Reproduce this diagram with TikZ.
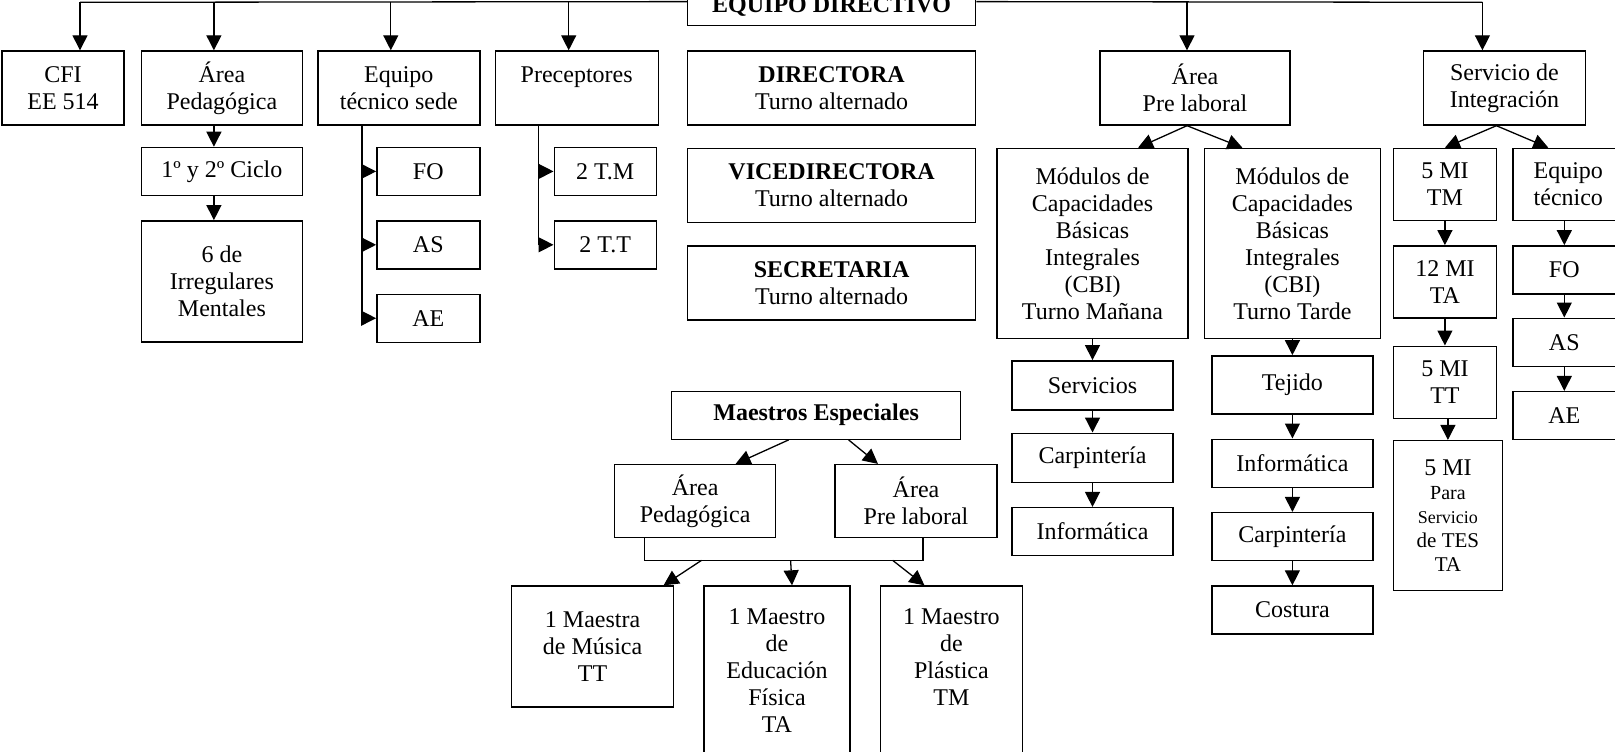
\documentclass[tikz,border=0pt]{standalone}
\usepackage{fontspec}
\setmainfont{Liberation Serif}
\usetikzlibrary{arrows.meta,positioning}

\begin{document}
\begin{tikzpicture}[
    box/.style={draw, line width=0.7pt, align=center, inner sep=1pt, font=\fontsize{12}{13.5}\selectfont},
    arr/.style={-{Triangle[length=7.5pt,width=7.5pt]}, line width=0.65pt},
    conn/.style={line width=0.65pt}
  ]
    \useasboundingbox (0,0) rectangle (807.5pt,-375.5pt);
    % fila superior
    \node[box, minimum width=61pt, minimum height=37pt] (cfi) at (31.5pt,-44pt) {CFI\\EE 514};
    \node[box, minimum width=80.5pt, minimum height=37pt, right=8pt of cfi] (aped) {Área\\Pedagógica};
    \node[box, minimum width=81pt, minimum height=37pt, right=7pt of aped] (eqs) {Equipo\\técnico sede};
    \node[box, minimum width=81.5pt, minimum height=37pt, right=7pt of eqs] (prec) {Preceptores\\~};
    \node[box, minimum width=144pt, minimum height=37pt, right=14pt of prec] (dirc) {\textbf{DIRECTORA}\\Turno alternado};
    \node[box, minimum width=95pt, minimum height=37pt, right=61.5pt of dirc] (apl) {Área\\Pre laboral};
    \node[box, minimum width=81pt, minimum height=37pt, right=66pt of apl] (sint) {Servicio de\\Integración};
    \node[box, minimum width=144pt, minimum height=19pt, above=12pt of dirc] (edir) {\textbf{EQUIPO DIRECTIVO}};
    \draw[conn] ([shift={(8.5pt,24pt)}]cfi.north) -- ([yshift=2.5pt]edir.west);
    \draw[conn] ([yshift=2.5pt]edir.east) -- ([shift={(-11pt,24pt)}]sint.north);
    \foreach \n/\dx in {cfi/8.5, aped/-4, eqs/-4, prec/-4, apl/-4, sint/-11}
      \draw[arr] ([shift={(\dx pt,24pt)}]\n.north) -- ([xshift=\dx pt]\n.north);
    % area pedagogica
    \node[box, minimum width=80.5pt, minimum height=24pt, below=10.5pt of aped] (ciclo) {1º y 2º Ciclo};
    \node[box, minimum width=80.5pt, minimum height=60.5pt, below=12pt of ciclo] (irreg) {6 de\\Irregulares\\Mentales};
    \draw[arr] ([xshift=-4pt]aped.south) -- ([xshift=-4pt]ciclo.north);
    \draw[arr] ([xshift=-4pt]ciclo.south) -- ([xshift=-4pt]irreg.north);
    % equipo tecnico sede
    \node[box, minimum width=51.5pt, minimum height=24pt, below=10.5pt of eqs.south east, anchor=north east] (fo1) {FO};
    \node[box, minimum width=51.5pt, minimum height=24pt, below=12pt of fo1] (as1) {AS};
    \node[box, minimum width=51.5pt, minimum height=24pt, below=12pt of as1] (ae1) {AE};
    \coordinate (eqsv) at ([xshift=22.5pt]eqs.south west);
    \draw[conn] (eqsv) -- (eqsv |- ae1.west);
    \foreach \n in {fo1,as1,ae1}
      \draw[arr] (eqsv |- \n.west) -- (\n.west);
    % preceptores
    \node[box, minimum width=51pt, minimum height=24pt, below=10.5pt of prec.south east, anchor=north east, xshift=-1pt] (tm2) {2 T.M};
    \node[box, minimum width=51pt, minimum height=24pt, below=12pt of tm2] (tt2) {2 T.T};
    \coordinate (precv) at ([xshift=22pt]prec.south west);
    \draw[conn] (precv) -- (precv |- tt2.west);
    \foreach \n in {tm2,tt2}
      \draw[arr] (precv |- \n.west) -- (\n.west);
    % equipo directivo
    \node[box, minimum width=144pt, minimum height=37pt, below=11pt of dirc] (vdir) {\textbf{VICEDIRECTORA}\\Turno alternado};
    \node[box, minimum width=144pt, minimum height=37pt, below=11pt of vdir] (sdir) {\textbf{SECRETARIA}\\Turno alternado};
    % area pre laboral
    \node[box, minimum width=95.5pt, minimum height=95pt, below=11pt of apl.south west, anchor=north west, xshift=-51.5pt] (mtm) {Módulos de\\Capacidades\\Básicas\\Integrales\\(CBI)\\Turno Mañana};
    \node[box, minimum width=88pt, minimum height=95pt, right=7.5pt of mtm] (mtt) {Módulos de\\Capacidades\\Básicas\\Integrales\\(CBI)\\Turno Tarde};
    \draw[arr] ([xshift=-4pt]apl.south) -- ([xshift=22.75pt]mtm.north);
    \draw[arr] ([xshift=-4pt]apl.south) -- ([xshift=-25pt]mtt.north);
    \node[box, minimum width=80.5pt, minimum height=24.5pt, below=10.5pt of mtm] (serv) {Servicios};
    \node[box, minimum width=80.5pt, minimum height=24.5pt, below=11pt of serv] (carp1) {Carpintería};
    \node[box, minimum width=80.5pt, minimum height=24pt, below=12pt of carp1] (info1) {Informática};
    \node[box, minimum width=80.5pt, minimum height=29pt, below=8pt of mtt] (tej) {Tejido};
    \node[box, minimum width=80.5pt, minimum height=24pt, below=12pt of tej] (info2) {Informática};
    \node[box, minimum width=80.5pt, minimum height=24pt, below=12pt of info2] (carp2) {Carpintería};
    \node[box, minimum width=80.5pt, minimum height=24pt, below=12pt of carp2] (cost) {Costura};
    % servicio de integracion
    \node[box, minimum width=51.5pt, minimum height=36pt, below=11pt of sint.south west, anchor=north west, xshift=-15pt] (mi5a) {5 MI\\TM};
    \node[box, minimum width=55.5pt, minimum height=36pt, right=7.5pt of mi5a] (etec) {Equipo\\técnico};
    \draw[arr] ([xshift=-4pt]sint.south) -- (mi5a.north);
    \draw[arr] ([xshift=-4pt]sint.south) -- ([xshift=-10pt]etec.north);
    \node[box, minimum width=51.5pt, minimum height=36pt, below=12pt of mi5a] (mi12) {12 MI\\TA};
    \node[box, minimum width=51.5pt, minimum height=36pt, below=13.5pt of mi12] (mi5b) {5 MI\\TT};
    \node[box, minimum width=54.5pt, minimum height=75pt, below=10.5pt of mi5b.south west, anchor=north west] (mites) {5 MI\\[-1.5pt]{\fontsize{10}{12}\selectfont Para}\\[-1.5pt]{\fontsize{9}{11}\selectfont Servicio}\\[-1.5pt]{\fontsize{10.5}{12}\selectfont de TES}\\[-1.5pt]{\fontsize{10.5}{12}\selectfont TA}};
    \node[box, minimum width=51.5pt, minimum height=24pt, below=12pt of etec.south west, anchor=north west] (fo2) {FO};
    \node[box, minimum width=51.5pt, minimum height=24pt, below=11.5pt of fo2] (as2) {AS};
    \node[box, minimum width=51.5pt, minimum height=24pt, below=12pt of as2] (ae2) {AE};
    \foreach \a/\b in {mtm/serv, serv/carp1, carp1/info1, mtt/tej, tej/info2, info2/carp2, carp2/cost, mi5a/mi12, mi12/mi5b, mi5b/mites, etec/fo2, fo2/as2, as2/ae2}
      \draw[arr] (\b.north |- \a.south) -- (\b.north);
    % maestros especiales
    \node[box, minimum width=144.5pt, minimum height=24pt, below=35pt of sdir.south west, anchor=north west, xshift=-8pt] (mesp) {\textbf{Maestros Especiales}};
    \node[box, minimum width=80.5pt, minimum height=36.5pt, below=12pt of mesp.south west, anchor=north west, xshift=-28.5pt] (mped) {Área\\Pedagógica};
    \node[box, minimum width=81pt, minimum height=36.5pt, right=29pt of mped] (mpre) {Área\\Pre laboral};
    \draw[arr] ([xshift=-13.75pt]mesp.south) -- ([xshift=20.25pt]mped.north);
    \draw[arr] ([xshift=16.25pt]mesp.south) -- ([xshift=-19pt]mpre.north);
    \draw[conn] ([xshift=-25.25pt]mped.south) -- ++(0,-11pt) coordinate (jl) -| ([xshift=3.5pt]mpre.south);
    \node[box, minimum width=81pt, minimum height=60.5pt, below=23.5pt of mped.south west, anchor=north west, xshift=-51.5pt] (maestra) {1 Maestra\\de Música\\TT};
    \node[box, minimum width=73pt, minimum height=84.5pt, right=14.5pt of maestra.north east, anchor=north west] (edfis) {1 Maestro\\de\\Educación\\Física\\TA};
    \node[box, minimum width=71pt, minimum height=84.5pt, right=14.5pt of edfis.north east, anchor=north west] (plast) {1 Maestro\\de\\Plástica\\TM\\~};
    \draw[arr] ([xshift=28.5pt]jl) -- ([xshift=35.5pt]maestra.north);
    \draw[arr] ([xshift=73pt]jl) -- ([xshift=7.5pt]edfis.north);
    \draw[arr] ([xshift=124pt]jl) -- ([xshift=-13.5pt]plast.north);
  \end{tikzpicture}
\end{document}
